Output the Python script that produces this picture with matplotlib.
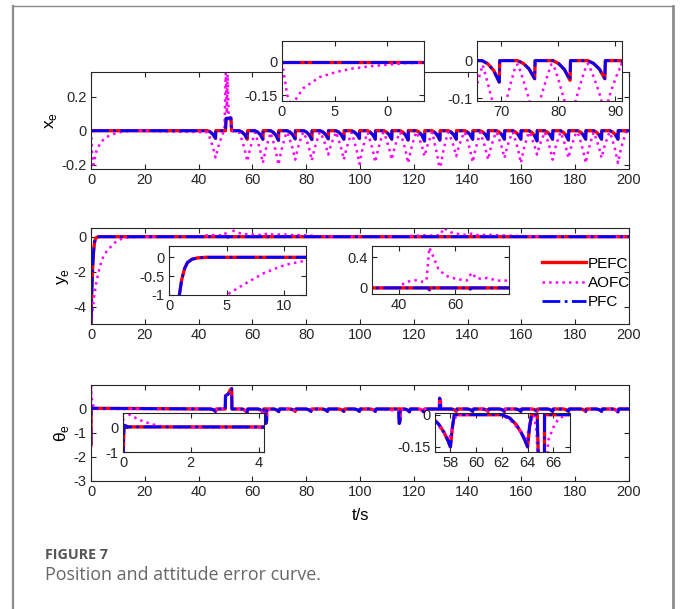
import matplotlib
matplotlib.use("Agg")
import matplotlib.pyplot as plt
from matplotlib.lines import Line2D
from matplotlib.ticker import FormatStrFormatter

plt.rcParams['font.family'] = ['Liberation Sans', 'DejaVu Sans']
plt.rcParams['mathtext.fontset'] = 'custom'
plt.rcParams['mathtext.rm'] = 'Liberation Sans'
plt.rcParams['axes.unicode_minus'] = False

# ---------------- data ----------------
# x_e : PEFC and PFC lie on top of each other
x_dip_t = [46.3, 58.1, 63.9, 69.7, 75.9, 82.1, 88.2, 94.0, 99.8, 105.7, 111.8, 117.9, 124.0,
           129.7, 135.8, 141.9, 147.6, 153.7, 159.8, 165.8, 171.6, 177.5, 183.9, 189.8, 195.9]
x_dip_pefc = [0.045, 0.05, 0.05, 0.057, 0.048, 0.052, 0.048, 0.05, 0.045, 0.05, 0.05, 0.055, 0.06,
              0.055, 0.05, 0.05, 0.05, 0.05, 0.05, 0.06, 0.05, 0.055, 0.05, 0.05, 0.05]
x_dip_aofc = [0.158, 0.18, 0.19, 0.2, 0.17, 0.175, 0.14, 0.17, 0.195, 0.185, 0.17, 0.19, 0.15,
              0.235, 0.15, 0.185, 0.17, 0.16, 0.19, 0.14, 0.17, 0.16, 0.19, 0.16, 0.19]
x_bump_pefc_t = [50.0, 50.2, 52.0, 52.3]
x_bump_pefc_v = [0, 0.072, 0.075, 0]
x_bump_aofc_t = [49.6, 50.1, 50.5, 50.8, 51.2, 51.8, 52.3]
x_bump_aofc_v = [0, 0.34, 0.1, 0.33, 0.08, 0.05, 0]
x_start_aofc_t = [0, 0.5, 0.9, 1.3, 2, 3.6, 5.2, 6.7, 8.3, 11.5, 13.5, 16]
x_start_aofc_v = [0, -0.15, -0.2, -0.17, -0.12, -0.068, -0.045, -0.03, -0.02, -0.006, -0.003, 0]

# y_e
y_pefc_t = [0, 0.2, 0.45, 0.7, 0.9, 1.1, 1.35, 1.6, 2.0, 2.5, 3.2, 50.5, 50.8, 51.1, 65.0, 65.3, 65.6, 200]
y_pefc_v = [-5, -3.6, -2.4, -1.5, -1.0, -0.6, -0.3, -0.14, -0.05, -0.015, 0, 0, -0.025, 0, 0, -0.015, 0, 0]
y_aofc_t = [0, 1, 2, 3, 4, 5, 6.5, 8.3, 10.1, 11.9, 14, 18, 25, 40, 41.8, 43.7, 46, 48, 49.8, 50.8,
            52.3, 54, 56.5, 60.2, 64, 65.8, 67.6, 71.3, 75, 77.4, 80.7, 84, 110, 120, 124, 127, 130,
            131, 132.5, 134, 137, 140, 141.5, 143, 148, 153, 158, 165, 175, 200]
y_aofc_v = [-5, -3.6, -2.6, -1.9, -1.35, -1.0, -0.72, -0.41, -0.2, -0.086, -0.04, -0.01, 0, 0, 0.06,
            0.087, 0.1, 0.08, 0.1, 0.53, 0.4, 0.25, 0.16, 0.12, 0.095, 0.2, 0.12, 0.13, 0.095, 0.1,
            0.075, 0.03, 0, 0.05, 0.08, 0.06, 0.1, 0.5, 0.38, 0.24, 0.14, 0.1, 0.18, 0.1, 0.11, 0.07,
            0.05, 0.02, 0, 0]

# theta_e
th_dip_t = [46.3, 58.0, 64.0, 69.8, 75.9, 81.8, 87.9, 94.0, 99.8, 105.7, 118.4, 123.7, 135.8,
            141.9, 147.6, 153.7, 159.8, 165.8, 171.6, 177.5, 183.9, 189.8, 195.9]
th_dip_d = [0.1, 0.15, 0.15, 0.11, 0.1, 0.1, 0.1, 0.1, 0.1, 0.1, 0.12, 0.12, 0.1,
            0.1, 0.1, 0.1, 0.1, 0.1, 0.1, 0.1, 0.1, 0.1, 0.12]
th_big_t = [65.0, 114.6]
th_big_d = [0.6, 0.6]
th_start_pefc_t = [0, 0.03, 0.15]
th_start_pefc_v = [-1.5, 0.1, 0.03]
th_start_aofc_t = [0, 0.03, 0.1, 0.3, 0.52, 0.8, 1.1, 1.5, 2.2]
th_start_aofc_v = [0, 1.2, 0.6, 0.45, 0.3, 0.16, 0.06, 0.02, 0]
th_bump_t = [49.9, 50.0, 51.0, 51.8, 52.3, 52.4, 129.5, 129.6, 129.9, 130.0]
th_bump_v = [0, 0.55, 0.62, 0.8, 0.85, 0, 0, 0.45, 0.35, 0]


def merge(*parts):
    pts = []
    for ts, vs in parts:
        pts += list(zip(ts, vs))
    pts.sort(key=lambda p: p[0])
    return [p[0] for p in pts], [p[1] for p in pts]


def sharp_dips(times, depths):
    # slow fall before the event then a jump back to zero
    ts, vs = [], []
    for t, d in zip(times, depths):
        ts += [t - 3, t - 2, t - 1, t, t + 0.08]
        vs += [0, -0.15 * d, -0.45 * d, -d, 0]
    return ts, vs


def arch_dips(times, depths):
    ts, vs = [], []
    for t, d in zip(times, depths):
        ts += [t - 2.9, t - 2, t - 1, t, t + 1, t + 2, t + 2.9]
        vs += [-0.06 * d, -0.3 * d, -0.6 * d, -d, -0.6 * d, -0.3 * d, -0.06 * d]
    return ts, vs


def small_dips(times, depths, soft=False):
    ts, vs = [], []
    for t, d in zip(times, depths):
        if soft:
            ts += [t - 2.0, t - 1.2, t - 0.6, t - 0.1, t + 0.2, t + 0.5]
            vs += [0, -0.22 * d, -0.5 * d, -0.8 * d, -0.25 * d, 0]
        else:
            ts += [t - 2.0, t - 1.4, t - 0.9, t - 0.5, t - 0.2, t, t + 0.15, t + 0.3]
            vs += [0, -0.1 * d, -0.3 * d, -0.55 * d, -0.8 * d, -d, -0.4 * d, 0]
    return ts, vs


def big_dips(times, depths, soft=False):
    ts, vs = [], []
    for t, d in zip(times, depths):
        if soft:
            ts += [t - 0.3, t, t + 0.3, t + 0.6, t + 1.0, t + 1.4, t + 2.0]
            vs += [-0.08, -d, -0.8 * d, -0.12, -0.06, -0.02, 0]
        else:
            ts += [t - 0.25, t, t + 0.3, t + 0.32]
            vs += [0, -d, -0.8 * d, 0]
    return ts, vs


x_p_t, x_p_v = merge(([0, 200], [0, 0]), (x_bump_pefc_t, x_bump_pefc_v),
                     sharp_dips(x_dip_t, x_dip_pefc))
x_a_t, x_a_v = merge((x_start_aofc_t, x_start_aofc_v), ([200], [0]),
                     (x_bump_aofc_t, x_bump_aofc_v), arch_dips(x_dip_t, x_dip_aofc))
th_p_t, th_p_v = merge((th_start_pefc_t, th_start_pefc_v), ([200], [0]), (th_bump_t, th_bump_v),
                       small_dips(th_dip_t, th_dip_d), big_dips(th_big_t, th_big_d))
th_a_t, th_a_v = merge((th_start_aofc_t, th_start_aofc_v), ([200], [0]), (th_bump_t, th_bump_v),
                       small_dips(th_dip_t, th_dip_d, soft=True),
                       big_dips(th_big_t, th_big_d, soft=True))

series = {
    'x': ((x_p_t, x_p_v), (x_a_t, x_a_v)),
    'y': ((y_pefc_t, y_pefc_v), (y_aofc_t, y_aofc_v)),
    'th': ((th_p_t, th_p_v), (th_a_t, th_a_v)),
}

W, H = 682, 609


def box(l, t, r, b):
    return [l / W, 1 - b / H, (r - l) / W, (b - t) / H]


def draw(ax, key, fs=10.5):
    (pt, pv), (at, av) = series[key]
    ax.plot(pt, pv, '-', color='#ff0000', lw=2.4, label='PEFC')
    ax.plot(at, av, ':', color='#ff00ff', lw=1.8, label='AOFC')
    ax.plot(pt, pv, '-.', color='#0000ff', lw=2.0, label='PFC')
    ax.tick_params(direction='in', top=True, right=True, length=3.5, width=0.8,
                   labelsize=fs, colors='#262626', pad=3)
    for s in ax.spines.values():
        s.set_color('#262626')
        s.set_linewidth(0.8)
    ax.yaxis.set_major_formatter(FormatStrFormatter('%g'))
    ax.xaxis.set_major_formatter(FormatStrFormatter('%g'))


fig = plt.figure(figsize=(W / 100, H / 100), dpi=100)

# main panels
ax1 = fig.add_axes(box(91, 72, 629, 169))
draw(ax1, 'x')
ax1.set_xlim(0, 200)
ax1.set_ylim(-0.225, 0.345)
ax1.set_yticks([-0.2, 0, 0.2])
ax1.set_xticks(range(0, 201, 20))
ax1.set_ylabel(r'x$_\mathrm{e}$', fontsize=12.5, labelpad=2)

ax2 = fig.add_axes(box(91, 228, 629, 324))
draw(ax2, 'y')
ax2.set_xlim(0, 200)
ax2.set_ylim(-5, 0.5)
ax2.set_yticks([-4, -2, 0])
ax2.set_xticks(range(0, 201, 20))
ax2.set_ylabel(r'y$_\mathrm{e}$', fontsize=12.5, labelpad=2)

ax3 = fig.add_axes(box(91, 385, 629, 481))
draw(ax3, 'th')
ax3.set_xlim(0, 200)
ax3.set_ylim(-3, 1)
ax3.set_yticks([-3, -2, -1, 0])
ax3.set_xticks(range(0, 201, 20))
ax3.set_ylabel('θ$_\\mathrm{e}$', fontsize=12.5, labelpad=2)
ax3.set_xlabel('t/s', fontsize=12, labelpad=6)

# insets
iA = fig.add_axes(box(282, 41, 424, 101))
draw(iA, 'x')
iA.set_xlim(0, 13.5)
iA.set_ylim(-0.177, 0.095)
iA.set_yticks([-0.15, 0])
iA.set_xticks([0, 5, 10])
iA.set_xticklabels(['0', '5', '0'])

iB = fig.add_axes(box(477, 41, 622, 101))
draw(iB, 'x')
iB.set_xlim(65.8, 91.2)
iB.set_ylim(-0.107, 0.052)
iB.set_yticks([-0.1, 0])
iB.set_xticks([70, 80, 90])

iC1 = fig.add_axes(box(169, 246, 306, 295))
draw(iC1, 'y')
iC1.set_xlim(0, 11.9)
iC1.set_ylim(-1, 0.3)
iC1.set_yticks([-1, -0.5, 0])
iC1.set_xticks([0, 5, 10])

iC2 = fig.add_axes(box(372, 246, 509, 294))
draw(iC2, 'y')
iC2.set_xlim(30.5, 79)
iC2.set_ylim(-0.08, 0.55)
iC2.set_yticks([0, 0.4])
iC2.set_xticks([40, 60])

iD1 = fig.add_axes(box(123, 413, 264, 452))
draw(iD1, 'th')
iD1.set_xlim(0, 4.16)
iD1.set_ylim(-1, 0.6)
iD1.set_yticks([-1, 0])
iD1.set_xticks([0, 2, 4])

iD2 = fig.add_axes(box(435, 413, 570, 452))
draw(iD2, 'th')
iD2.set_xlim(56.8, 67.3)
iD2.set_ylim(-0.174, 0.008)
iD2.set_yticks([-0.15, 0])
iD2.set_xticks([58, 60, 62, 64, 66])

leg = ax2.legend(loc='center left', bbox_to_anchor=(534 / W, 1 - 283 / H),
                 bbox_transform=fig.transFigure, frameon=False, fontsize=11,
                 handlelength=2.9, handletextpad=0.15, labelspacing=0.35, borderpad=0)

# card frame and caption
frame = dict(color='#8c8c8c', transform=fig.transFigure)
fig.add_artist(Line2D([13 / W, 673 / W], [1 - 6 / H, 1 - 6 / H], lw=1.0, **frame))
fig.add_artist(Line2D([13 / W, 13 / W], [1 - 6 / H, 0], lw=1.6, **frame))
fig.add_artist(Line2D([673 / W, 673 / W], [1 - 6 / H, 0], lw=2.0, **frame))
fig.text(45 / W, 1 - 555 / H, 'FIGURE 7', fontsize=10.3, fontweight='bold',
         color='#555555', family='Open Sans', va='center')
fig.text(45 / W, 1 - 575 / H, 'Position and attitude error curve.', fontsize=12.9,
         color='#666666', family='Open Sans', va='center')

fig.savefig('out.png', dpi=100)
